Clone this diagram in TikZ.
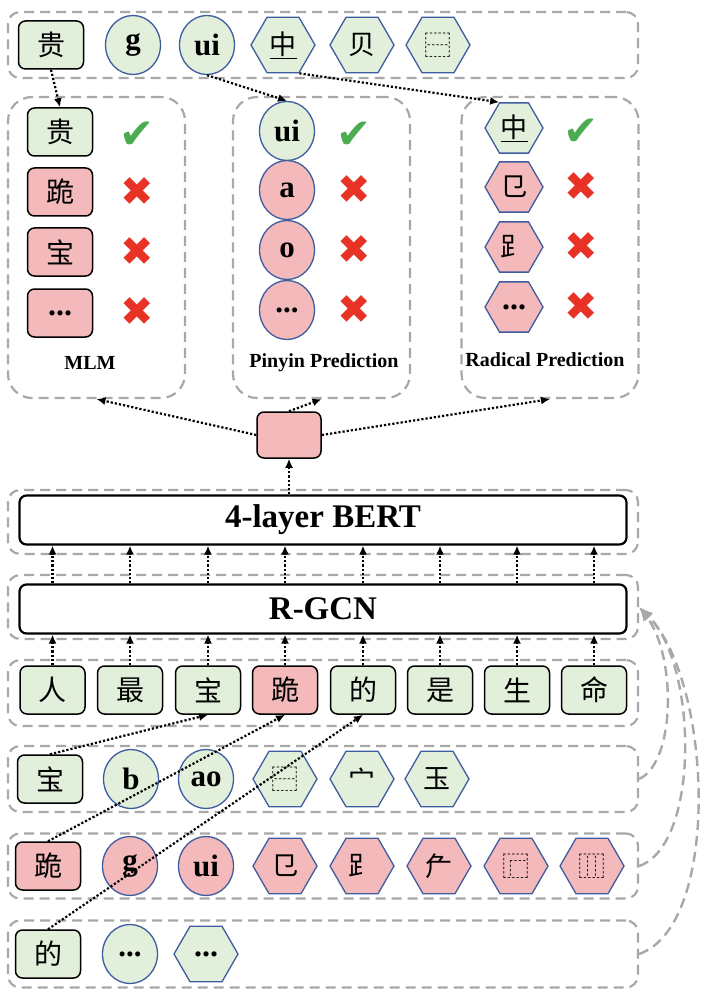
\documentclass[tikz,border=0pt]{standalone}
\usepackage{fontspec}
\setmainfont{Liberation Serif}
\newfontfamily\cjk{Noto Sans CJK SC}
\newfontfamily\symb{DejaVu Sans}
\usetikzlibrary{shapes.geometric,arrows.meta}
\definecolor{okfill}{RGB}{226,239,218}
\definecolor{badfill}{RGB}{244,185,186}
\definecolor{ringblue}{RGB}{62,92,160}
\definecolor{framegray}{RGB}{168,168,168}
\definecolor{tickgreen}{RGB}{76,172,80}
\definecolor{crossred}{RGB}{232,50,38}

\begin{document}
\begin{tikzpicture}[x=1pt,y=-1pt,
	grp/.style={draw=framegray, line width=2.2pt, dash pattern=on 10pt off 6pt, rounded corners=12pt, inner sep=0pt},
	panel/.style={grp, rounded corners=24pt, minimum width=177pt, minimum height=301pt},
	wide/.style={grp, minimum width=630pt, minimum height=66pt},
	chr/.style={rectangle, rounded corners=7pt, draw=black, line width=1.5pt, minimum width=65pt, minimum height=48pt, inner sep=0pt, font=\cjk\fontsize{28}{30}\selectfont},
	py/.style={ellipse, draw=ringblue, line width=1.3pt, minimum width=55pt, minimum height=59pt, inner sep=0pt, font=\bfseries\fontsize{31}{32}\selectfont},
	rad/.style={regular polygon, regular polygon sides=6, draw=ringblue, line width=1.3pt, minimum size=64pt, inner sep=0pt, font=\cjk\fontsize{27}{30}\selectfont},
	good/.style={fill=okfill},
	bad/.style={fill=badfill},
	dots/.style={font=\bfseries\fontsize{32}{32}\selectfont},
	layer/.style={rectangle, rounded corners=7pt, draw=black, line width=2.2pt, minimum width=607pt, minimum height=49pt, font=\bfseries\fontsize{33}{34}\selectfont},
	tick/.style={font=\symb\fontsize{42}{42}\selectfont, text=tickgreen},
	cross/.style={font=\symb\fontsize{40}{40}\selectfont, text=crossred},
	tag/.style={font=\bfseries\fontsize{20}{22}\selectfont},
	dotarrow/.style={-{Latex[length=9pt,width=8pt]}, line width=2.2pt, dash pattern=on 2.2pt off 2pt},
	backarrow/.style={-{Latex[length=14pt,width=11pt]}, draw=framegray, line width=2.4pt, dash pattern=on 10pt off 6pt}]
	\useasboundingbox (0,0) rectangle (704,1000);

	% top row: the original character
	\node[wide] (toprow) at (323,45) {};
	\node[chr, good] (tgui) at (51,45) {贵};
	\node[py, good] (tg) at (133,45) {g};
	\node[py, good] (tui) at (207,45) {ui};
	\node[rad, good] (tzhong) at (283,45) {\underline{中}};
	\node[rad, good] (tbei) at (362,45) {贝};
	\node[rad, good] (tstruct) at (438,45) {⿱};

	% prediction panels
	\node[panel] (mlm) at (96.5,247.5) {};
	\node[chr, good] (m1) at (60,132) {贵};
	\node[chr, bad] (m2) at (60,192) {跪};
	\node[chr, bad] (m3) at (60,252) {宝};
	\node[chr, bad, dots] (m4) at (60,313) {...};
	\node[tick] (mc1) at (137,135) {✔};
	\node[cross] (mc2) at (137,192) {✖};
	\node[cross] (mc3) at (137,252) {✖};
	\node[cross] (mc4) at (137,312) {✖};
	\node[tag] (mlmtag) at (90,363) {MLM};

	\node[panel] (pin) at (321.5,247.5) {};
	\node[py, good] (p1) at (287,131) {ui};
	\node[py, bad] (p2) at (287,190) {a};
	\node[py, bad] (p3) at (287,250) {o};
	\node[py, bad] (p4) at (287,310) {...};
	\node[tick] (pc1) at (354,135) {✔};
	\node[cross] (pc2) at (354,190) {✖};
	\node[cross] (pc3) at (354,250) {✖};
	\node[cross] (pc4) at (354,310) {✖};
	\node[tag] (pintag) at (324,363) {Pinyin Prediction};

	\node[panel] (radp) at (550,247.5) {};
	\node[rad, good, minimum size=58pt] (r1) at (514,128) {\underline{中}};
	\node[rad, bad, minimum size=58pt] (r2) at (514,187) {㔾};
	\node[rad, bad, minimum size=58pt] (r3) at (514,247) {⻊};
	\node[rad, bad, minimum size=58pt, dots] (r4) at (514,307) {...};
	\node[tick] (rc1) at (581,132) {✔};
	\node[cross] (rc2) at (581,187) {✖};
	\node[cross] (rc3) at (581,247) {✖};
	\node[cross] (rc4) at (581,307) {✖};
	\node[tag] (radtag) at (545,360) {Radical Prediction};

	% hidden state and encoders
	\node[chr, bad, minimum width=64pt, minimum height=46pt] (hid) at (289,435) {};
	\node[wide, minimum height=64pt] (bertrow) at (323,522) {};
	\node[layer] (bert) at (323,520) {4-layer BERT};
	\node[wide, minimum height=64pt] (gcnrow) at (323,607) {};
	\node[layer] (gcn) at (323,609) {R-GCN};

	% sentence
	\node[wide] (sentrow) at (323,693) {};
	\node[chr, good] (s1) at (52.5,690) {人};
	\node[chr, good] (s2) at (130,690) {最};
	\node[chr, good] (s3) at (208,690) {宝};
	\node[chr, bad] (s4) at (285,690) {跪};
	\node[chr, good] (s5) at (363,690) {的};
	\node[chr, good] (s6) at (440,690) {是};
	\node[chr, good] (s7) at (517,690) {生};
	\node[chr, good] (s8) at (594,690) {命};

	% character graphs
	\node[wide] (baorow) at (323,779) {};
	\node[chr, good] (b0) at (50,779) {宝};
	\node[py, good] (b1) at (131,779) {b};
	\node[py, good] (b2) at (206,779) {ao};
	\node[rad, good] (b3) at (285,779) {⿱};
	\node[rad, good] (b4) at (362,779) {宀};
	\node[rad, good] (b5) at (437,779) {玉};

	\node[wide, minimum height=65pt] (guirow) at (323,866) {};
	\node[chr, bad] (g0) at (48,866) {跪};
	\node[py, bad] (g1) at (130,866) {g};
	\node[py, bad] (g2) at (206,866) {ui};
	\node[rad, bad] (g3) at (285,866) {㔾};
	\node[rad, bad] (g4) at (362,866) {⻊};
	\node[rad, bad] (g5) at (439,866) {厃};
	\node[rad, bad] (g6) at (516,866) {⿸};
	\node[rad, bad] (g7) at (592,866) {⿲};

	\node[wide, minimum height=67pt] (derow) at (323,954) {};
	\node[chr, good] (d0) at (48,954) {的};
	\node[py, good] (d1) at (130,954) {...};
	\node[rad, good, dots] (d2) at (206,954) {...};

	% arrows
	\draw[dotarrow] (tgui.south) -- (m1.north);
	\draw[dotarrow] (tui.south) -- (p1.north);
	\draw[dotarrow] (tzhong.-60) -- (r1.120);
	\draw[dotarrow] (hid.west) -- (mlm.south);
	\draw[dotarrow] (hid.north) -- (pin.south);
	\draw[dotarrow] (hid.east) -- (radp.south);
	\draw[dotarrow] (bert.north -| hid) -- (hid.south);
	\foreach \i in {1,...,8} {
		\draw[dotarrow] (s\i |- gcn.north) -- (s\i |- bert.south);
		\draw[dotarrow] (s\i.north) -- (s\i |- gcn.south);
	}
	\draw[dotarrow] (b0.north) -- (s3.south);
	\draw[dotarrow] (g0.north) -- (s4.south);
	\draw[dotarrow] (d0.north) -- (s5.south);
	\draw[backarrow] (baorow.east) .. controls (676,762) and (676,655) .. (gcnrow.east);
	\draw[backarrow] (guirow.east) .. controls (700,845) and (698,665) .. (gcnrow.east);
	\draw[backarrow] (derow.east) .. controls (722,925) and (712,680) .. (gcnrow.east);
\end{tikzpicture}
\end{document}
